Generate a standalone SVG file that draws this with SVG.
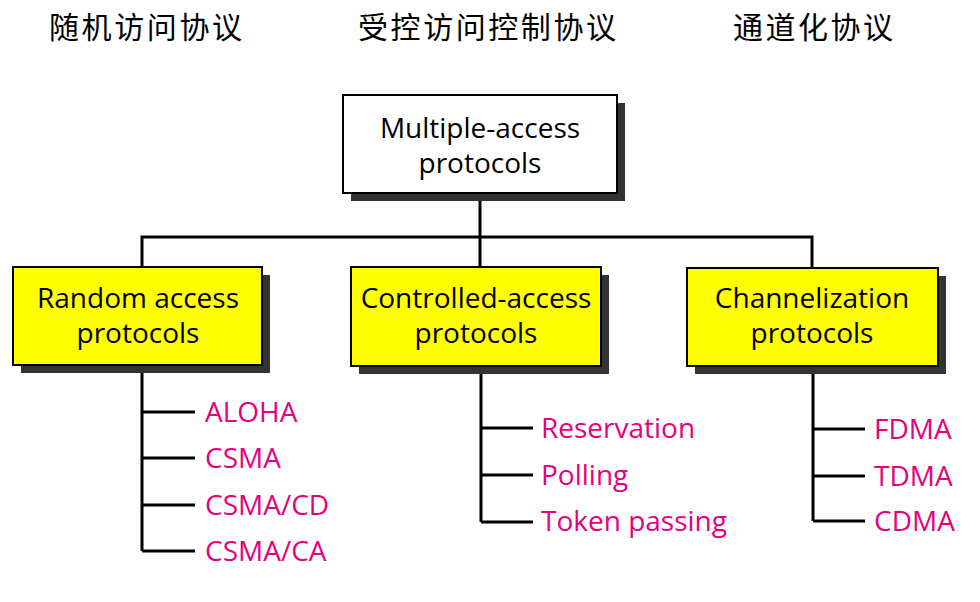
<svg xmlns="http://www.w3.org/2000/svg" width="980" height="602" viewBox="0 0 980 602">
<style>
.title{font-family:"Noto Sans CJK SC","Noto Sans",sans-serif;font-size:30px;font-weight:400;fill:#000}
.box{stroke:#000;stroke-width:2}
.shadow{fill:#333}
.lbl{font-family:"Open Sans","Noto Sans",sans-serif;font-size:28px;fill:#000;text-anchor:middle}
.item{font-family:"Open Sans","Noto Sans",sans-serif;font-size:28px;fill:#E6007E}
.conn{stroke:#000;stroke-width:3;fill:none}
</style>
<rect width="980" height="602" fill="#fff"/>
<g id="titles">
<text class="title" x="49" y="38" textLength="193">随机访问协议</text>
<text class="title" x="358" y="38" textLength="258">受控访问控制协议</text>
<text class="title" x="733" y="38" textLength="160">通道化协议</text>
</g>
<g id="connectors">
<path class="conn" d="M480 193V237M142 267V237H812V267M480 237V267"/>
<path class="conn" d="M142 366V551M142 412H195M142 458H195M142 505H195M142 551H195"/>
<path class="conn" d="M481 366V522M481 428H533M481 475H533M481 522H533"/>
<path class="conn" d="M813 367V521M813 429H865M813 476H865M813 521H865"/>
</g>
<g id="root">
<rect class="shadow" x="351" y="103" width="274" height="98"/>
<rect class="box" x="343" y="95" width="274" height="98" fill="#fff"/>
<text class="lbl" x="480" y="138">Multiple-access</text>
<text class="lbl" x="480" y="173">protocols</text>
</g>
<g id="random">
<rect class="shadow" x="21" y="275" width="249" height="98"/>
<rect class="box" x="13" y="267" width="249" height="98" fill="#ffff00"/>
<text class="lbl" x="138" y="308">Random access</text>
<text class="lbl" x="138" y="343">protocols</text>
</g>
<g id="controlled">
<rect class="shadow" x="359" y="275" width="250" height="99"/>
<rect class="box" x="351" y="267" width="250" height="99" fill="#ffff00"/>
<text class="lbl" x="476" y="308">Controlled-access</text>
<text class="lbl" x="476" y="343">protocols</text>
</g>
<g id="channel">
<rect class="shadow" x="695" y="276" width="251" height="98"/>
<rect class="box" x="687" y="268" width="251" height="98" fill="#ffff00"/>
<text class="lbl" x="812" y="308">Channelization</text>
<text class="lbl" x="812" y="343">protocols</text>
</g>
<g id="random-items">
<text class="item" x="205" y="422">ALOHA</text>
<text class="item" x="205" y="468">CSMA</text>
<text class="item" x="205" y="515">CSMA/CD</text>
<text class="item" x="205" y="561">CSMA/CA</text>
</g>
<g id="controlled-items">
<text class="item" x="541" y="438">Reservation</text>
<text class="item" x="541" y="485">Polling</text>
<text class="item" x="541" y="531">Token passing</text>
</g>
<g id="channel-items">
<text class="item" x="874" y="439">FDMA</text>
<text class="item" x="874" y="486">TDMA</text>
<text class="item" x="874" y="531">CDMA</text>
</g>
</svg>
